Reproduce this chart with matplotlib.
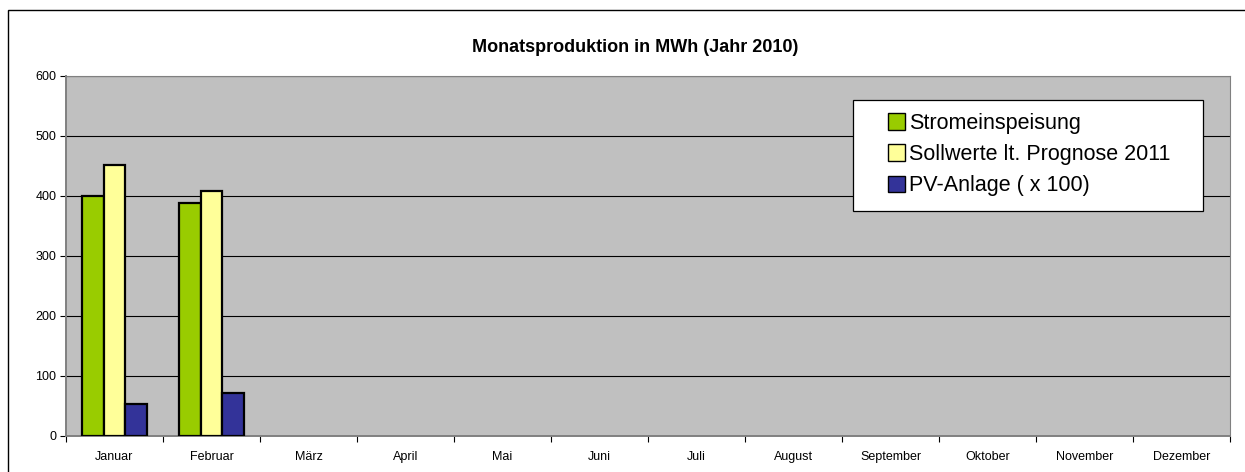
import matplotlib
matplotlib.use("Agg")
import matplotlib.pyplot as plt
from matplotlib.patches import Rectangle
import numpy as np

plt.rcParams['font.family'] = ['Liberation Sans', 'DejaVu Sans']

months = ["Januar", "Februar", "März", "April", "Mai", "Juni", "Juli",
          "August", "September", "Oktober", "November", "Dezember"]
strom = [400, 389, 0, 0, 0, 0, 0, 0, 0, 0, 0, 0]
soll = [452, 409, 0, 0, 0, 0, 0, 0, 0, 0, 0, 0]
pv = [54, 72, 0, 0, 0, 0, 0, 0, 0, 0, 0, 0]
series_names = ["Stromeinspeisung", "Sollwerte lt. Prognose 2011", "PV-Anlage ( x 100)"]
colors = ["#99CC00", "#FFFF99", "#333399"]
yticks = [0, 100, 200, 300, 400, 500, 600]

fig = plt.figure(figsize=(12.45, 4.72), dpi=100)
ax = fig.add_axes([66/1245, 1-436/472, (1230-66)/1245, 360/472])
ax.set_facecolor("#C0C0C0")

x = np.arange(len(months))
w = 0.22
n_drawn = 2  # months with data
handles = []
for i, (vals, c, name) in enumerate(zip([strom, soll, pv], colors, series_names)):
    xs = x[:n_drawn] + (i - 1) * w
    b = ax.bar(xs, vals[:n_drawn], width=w, color=c, edgecolor="black", linewidth=1.6, label=name, zorder=3)
    handles.append(b)

ax.set_xlim(-0.5, len(months) - 0.5)
ax.set_ylim(0, 600)
ax.set_yticks(yticks)
ax.set_yticklabels([str(v) for v in yticks], fontsize=9)
ax.yaxis.grid(True, color="black", linewidth=0.8, zorder=1)
ax.set_axisbelow(True)
ax.set_xticks(np.arange(-0.5, len(months)), minor=False)
ax.set_xticklabels([""] * (len(months) + 1))
ax.set_xticks(x, minor=True)
ax.set_xticklabels(months, minor=True, fontsize=9)
ax.tick_params(axis="x", which="minor", length=0, pad=11)
ax.tick_params(axis="x", which="major", length=4, direction="out", color="black")
ax.tick_params(axis="y", length=4, direction="out", pad=3)
for s in ["top", "right"]:
    ax.spines[s].set_color("#808080")
for s in ["left", "bottom"]:
    ax.spines[s].set_color("#808080")
    ax.spines[s].set_linewidth(1.4)

# legend box
ax.add_patch(Rectangle((0.676, 0.625), 0.301, 0.308, transform=ax.transAxes,
                       facecolor="white", edgecolor="black", linewidth=0.9, zorder=5))
leg = ax.legend(handles=handles, labels=series_names, loc="upper left",
                bbox_to_anchor=(0.706, 0.897),
                fontsize=15.5, frameon=False,
                handlelength=0.8, handleheight=0.8, handletextpad=0.2,
                borderpad=0, labelspacing=0.47, borderaxespad=0)
leg.set_zorder(6)
for p in leg.get_patches():
    p.set_linewidth(1.0)

fig.text(635/1245, 1-47/472, "Monatsproduktion in MWh (Jahr 2010)", ha="center", va="center",
         fontsize=13, fontweight="bold")

fig.patches.append(Rectangle((8/1245, -0.05), 1.2, 1-10/472 + 0.05, transform=fig.transFigure,
                             fill=False, edgecolor="black", linewidth=1.0))

fig.savefig("out.png", dpi=100, facecolor="white")
